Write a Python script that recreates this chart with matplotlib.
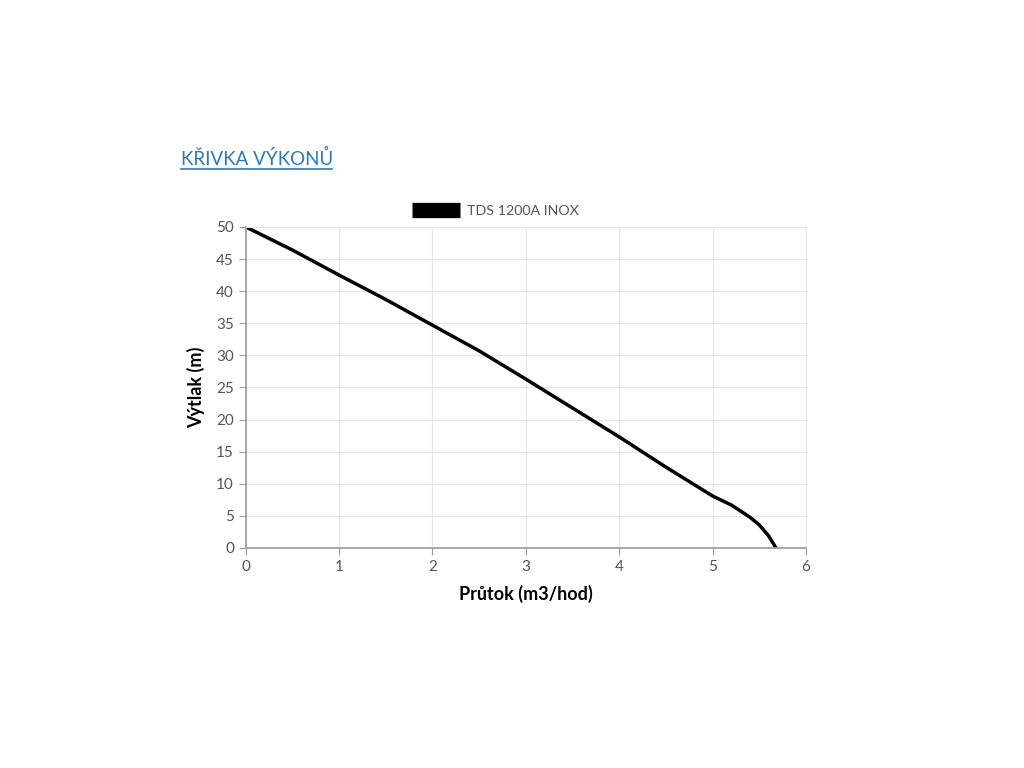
import matplotlib.pyplot as plt
import numpy as np

flow = [0, 0.5, 1, 1.5, 2, 2.5, 3, 3.5, 4, 4.5, 5, 5.2, 5.4, 5.5, 5.6, 5.68]
head = [50, 46.4, 42.5, 38.7, 34.7, 30.7, 26.3, 21.8, 17.3, 12.6, 8.1, 6.7, 4.8, 3.6, 1.9, 0]
series_name = "TDS 1200A INOX"
x_ticks = [0, 1, 2, 3, 4, 5, 6]
y_ticks = [0, 5, 10, 15, 20, 25, 30, 35, 40, 45, 50]


def main():
    plt.rcParams['font.family'] = ['Lato', 'DejaVu Sans']
    fig = plt.figure(figsize=(10.24, 7.68), dpi=100)
    ax = fig.add_axes([0.240, 0.2865, 0.547, 0.418])

    ax.plot(flow, head, color='black', linewidth=2.5, label=series_name)

    ax.set_xlim(0, 6)
    ax.set_ylim(0, 50)
    ax.set_xticks(x_ticks)
    ax.set_yticks(y_ticks)
    ax.grid(True, color='#e6e6e6', linewidth=0.8)
    ax.set_axisbelow(True)
    for side in ['top', 'right']:
        ax.spines[side].set_color('#e6e6e6')
        ax.spines[side].set_linewidth(0.8)
    for side in ['left', 'bottom']:
        ax.spines[side].set_color('#999999')
        ax.spines[side].set_linewidth(1.2)
    ax.tick_params(axis='both', colors='#999999', labelcolor='#555555', labelsize=11, length=5)

    ax.set_xlabel('Průtok (m3/hod)', fontsize=13, fontweight='bold', labelpad=8)
    ax.set_ylabel('Výtlak (m)', fontsize=13, fontweight='bold', labelpad=8)

    leg = ax.legend(loc='lower center', bbox_to_anchor=(0.446, 0.99), frameon=False,
                    handlelength=3.3, handletextpad=0.5, fontsize=10.3)
    for line in leg.get_lines():
        line.set_linewidth(11)
        line.set_solid_capstyle('butt')
    for t in leg.get_texts():
        t.set_color('#555555')

    fig.text(0.177, 0.785, 'KŘIVKA VÝKONŮ', color='#2a7ab8', fontsize=13.5)
    fig.add_artist(plt.Line2D([0.177, 0.324], [0.780, 0.780], color='#2a7ab8', linewidth=1.2))

    fig.savefig('out.png', dpi=100, facecolor='white')


if __name__ == "__main__":
    main()
